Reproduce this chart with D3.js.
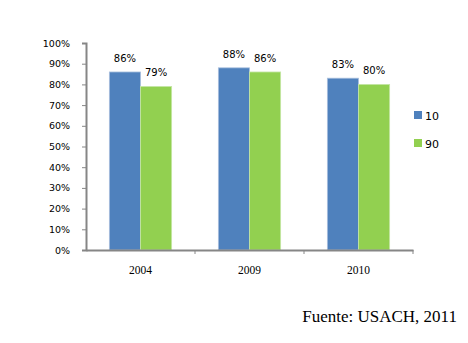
<!DOCTYPE html>
<html>
<head>
<meta charset="utf-8">
<script src="https://cdn.jsdelivr.net/npm/d3@7"></script>
<style>
  html, body { margin: 0; padding: 0; background: #fff; }
  svg { display: block; }
</style>
</head>
<body>
<svg id="chart" width="468" height="343"></svg>
<script>
// Survey years and the two series shown side by side
const years = ["2004", "2009", "2010"];
const seriesNames = ["10", "90"];
const values10 = [0.86, 0.88, 0.83];
const values90 = [0.79, 0.86, 0.80];
const yTicks = [0, 0.1, 0.2, 0.3, 0.4, 0.5, 0.6, 0.7, 0.8, 0.9, 1.0];
const colors = ["#4F81BD", "#92D050"];
const sourceNote = "Fuente: USACH, 2011";

const svg = d3.select("#chart");
const x0 = 86, x1 = 413, yTop = 43, yBase = 250;

const x = d3.scaleBand().domain(years).range([x0, x1]).paddingInner(0).paddingOuter(0);
const xs = d3.scaleBand().domain(seriesNames).range([0, x.bandwidth()]).paddingInner(0).paddingOuter(0.75);
const y = d3.scaleLinear().domain([0, 1]).range([yBase, yTop]);

const rows = years.map((yr, i) => ({ year: yr, vals: [values10[i], values90[i]] }));

// Bars with value labels above
const g = svg.append("g");
rows.forEach(r => {
  r.vals.forEach((v, k) => {
    g.append("rect")
      .attr("x", x(r.year) + xs(seriesNames[k]))
      .attr("y", y(v))
      .attr("width", xs.bandwidth())
      .attr("height", y(0) - y(v))
      .attr("fill", colors[k])
      .attr("stroke", k === 0 ? "#a9bfdd" : "#c5e6a6")
      .attr("stroke-width", 0.8);
    g.append("text")
      .attr("x", x(r.year) + xs(seriesNames[k]) + xs.bandwidth() / 2)
      .attr("y", y(v) - 10)
      .attr("text-anchor", "middle")
      .attr("font-family", "DejaVu Sans, Verdana, sans-serif")
      .attr("font-size", "10px")
      .attr("fill", "#000")
      .text(Math.round(v * 100) + "%");
  });
});

// Y axis
const yAxis = d3.axisLeft(y).tickValues(yTicks).tickFormat(d3.format(".0%")).tickSize(4).tickPadding(12);
const ya = svg.append("g").attr("transform", `translate(${x0},0)`).call(yAxis);
ya.select(".domain").attr("stroke", "#868686").attr("stroke-width", 2);
ya.selectAll(".tick line").attr("stroke", "#868686").attr("stroke-width", 1);
ya.selectAll(".tick text")
  .attr("font-family", "DejaVu Sans, Verdana, sans-serif")
  .attr("font-size", "9.5px")
  .attr("fill", "#000");

// X axis
const xAxis = d3.axisBottom(x).tickSize(0).tickPadding(16);
const xa = svg.append("g").attr("transform", `translate(0,${yBase})`).call(xAxis);
xa.select(".domain").attr("stroke", "#868686").attr("stroke-width", 2);
xa.selectAll(".tick text")
  .attr("font-family", "Liberation Serif, Times New Roman, serif")
  .attr("font-size", "11.5px")
  .attr("fill", "#000");
// category separators below the axis
const bounds = years.map(d => x(d) + x.bandwidth());
xa.selectAll(".sep").data(bounds).enter().append("line")
  .attr("x1", d => d).attr("x2", d => d)
  .attr("y1", 0).attr("y2", 4)
  .attr("stroke", "#868686");

// Legend
const legend = svg.append("g");
seriesNames.forEach((s, k) => {
  const ly = 111 + k * 28;
  legend.append("rect").attr("x", 414).attr("y", ly).attr("width", 8).attr("height", 8).attr("fill", colors[k]);
  legend.append("text")
    .attr("x", 425).attr("y", ly + 8.5)
    .attr("font-family", "DejaVu Sans, Verdana, sans-serif")
    .attr("font-size", "11px")
    .attr("fill", "#000")
    .text(s);
});

// Source note
svg.append("text")
  .attr("x", 457).attr("y", 322)
  .attr("text-anchor", "end")
  .attr("font-family", "Liberation Serif, Times New Roman, serif")
  .attr("font-size", "17px")
  .attr("fill", "#000")
  .text(sourceNote);
</script>
</body>
</html>
